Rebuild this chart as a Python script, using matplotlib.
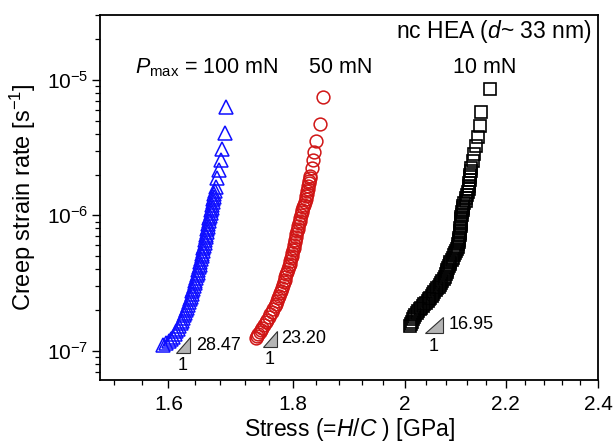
import matplotlib
matplotlib.use('Agg')
import matplotlib.pyplot as plt
import numpy as np
from matplotlib.ticker import FixedLocator, FuncFormatter, LogLocator, NullFormatter

plt.rcParams['font.family'] = ['Liberation Sans', 'DejaVu Sans']
plt.rcParams['mathtext.fontset'] = 'custom'
plt.rcParams['mathtext.rm'] = 'Liberation Sans'
plt.rcParams['mathtext.it'] = 'Liberation Sans:italic'
plt.rcParams['mathtext.bf'] = 'Liberation Sans:bold'

# ---------------- data (stress in GPa, creep strain rate in units of 1e-7 s^-1) -------------
stress_100mN = [1.5925, 1.5966, 1.6006, 1.6045, 1.6074, 1.6097, 1.6119, 1.6140, 1.6163, 1.6185,
                1.6202, 1.6219, 1.6236, 1.6252, 1.6270, 1.6286, 1.6304, 1.6319, 1.6331, 1.6343,
                1.6355, 1.6367, 1.6379, 1.6390, 1.6402, 1.6414, 1.6425, 1.6435, 1.6446, 1.6456,
                1.6466, 1.6477, 1.6487, 1.6498, 1.6509, 1.6519, 1.6528, 1.6537, 1.6546, 1.6555,
                1.6564, 1.6573, 1.6582, 1.6590, 1.6599, 1.6608, 1.6616, 1.6625, 1.6633, 1.6641,
                1.6649, 1.6658, 1.6666, 1.6674, 1.6682, 1.6691, 1.6699, 1.6708, 1.6717, 1.6729,
                1.6756, 1.6781, 1.6808, 1.6834, 1.6871, 1.6898]
rate_100mN_e7 = [1.10, 1.14, 1.18, 1.22, 1.27, 1.33, 1.39, 1.45, 1.52, 1.59,
                 1.66, 1.74, 1.82, 1.90, 1.99, 2.08, 2.18, 2.28, 2.39, 2.50,
                 2.62, 2.74, 2.87, 3.00, 3.14, 3.29, 3.44, 3.60, 3.77, 3.95,
                 4.13, 4.33, 4.53, 4.75, 4.97, 5.20, 5.45, 5.70, 5.97, 6.25,
                 6.55, 6.86, 7.18, 7.52, 7.87, 8.25, 8.64, 9.05, 9.48, 9.93,
                 10.4, 10.9, 11.4, 11.9, 12.5, 13.1, 13.75, 14.4, 15.2, 16.3,
                 18.8, 21.7, 25.7, 30.8, 40.4, 63.0]

stress_50mN = [1.7374, 1.7395, 1.7417, 1.7439, 1.7456, 1.7483, 1.7512, 1.7540, 1.7567, 1.7592,
               1.7616, 1.7641, 1.7665, 1.7688, 1.7710, 1.7726, 1.7743, 1.7759, 1.7776, 1.7792,
               1.7809, 1.7825, 1.7839, 1.7854, 1.7869, 1.7884, 1.7899, 1.7914, 1.7929, 1.7940,
               1.7951, 1.7963, 1.7974, 1.7986, 1.7997, 1.8009, 1.8019, 1.8028, 1.8037, 1.8047,
               1.8056, 1.8066, 1.8076, 1.8087, 1.8099, 1.8110, 1.8122, 1.8133, 1.8145, 1.8158,
               1.8173, 1.8187, 1.8203, 1.8216, 1.8225, 1.8234, 1.8242, 1.8251, 1.8259, 1.8268,
               1.8277, 1.8285, 1.8293, 1.8316, 1.8338, 1.8363, 1.8397, 1.8455, 1.8520]
rate_50mN_e7 = [1.235, 1.28, 1.33, 1.38, 1.42, 1.48, 1.55, 1.62, 1.69, 1.77,
                1.85, 1.94, 2.03, 2.12, 2.22, 2.32, 2.43, 2.54, 2.66, 2.78,
                2.91, 3.05, 3.19, 3.34, 3.49, 3.66, 3.83, 4.01, 4.19, 4.39,
                4.59, 4.81, 5.03, 5.27, 5.51, 5.77, 6.04, 6.32, 6.62, 6.93,
                7.26, 7.60, 7.96, 8.33, 8.72, 9.13, 9.56, 10.0, 10.5, 11.0,
                11.5, 12.0, 12.6, 13.2, 13.8, 14.4, 15.0, 15.7, 16.4, 17.2,
                18.0, 18.8, 19.6, 22.3, 25.7, 29.6, 35.7, 47.4, 75.4]

stress_10mN = [2.0106, 2.0125, 2.0144, 2.0162, 2.0183, 2.0202, 2.0229, 2.0255, 2.0281, 2.0308,
               2.0341, 2.0373, 2.0404, 2.0437, 2.0463, 2.0488, 2.0512, 2.0540, 2.0567, 2.0597,
               2.0626, 2.0655, 2.0684, 2.0704, 2.0724, 2.0745, 2.0765, 2.0786, 2.0806, 2.0822,
               2.0835, 2.0849, 2.0864, 2.0877, 2.0901, 2.0926, 2.0951, 2.0976, 2.0991, 2.1006,
               2.1021, 2.1036, 2.1046, 2.1052, 2.1058, 2.1063, 2.1069, 2.1075, 2.1079, 2.1082,
               2.1086, 2.1089, 2.1093, 2.1096, 2.1104, 2.1112, 2.1120, 2.1127, 2.1136, 2.1145,
               2.1181, 2.1195, 2.1210, 2.1224, 2.1239, 2.1249, 2.1258, 2.1265, 2.1272, 2.1278,
               2.1284, 2.1291, 2.1331, 2.1357, 2.1398, 2.1432, 2.1479, 2.1499, 2.1668]
rate_10mN_e7 = [1.523, 1.58, 1.64, 1.70, 1.77, 1.84, 1.90, 1.96, 2.02, 2.08,
                2.14, 2.20, 2.26, 2.33, 2.40, 2.47, 2.54, 2.62, 2.70, 2.79,
                2.88, 2.97, 3.07, 3.18, 3.29, 3.41, 3.53, 3.66, 3.79, 3.92,
                4.06, 4.21, 4.37, 4.53, 4.70, 4.87, 5.05, 5.24, 5.44, 5.65,
                5.87, 6.10, 6.34, 6.59, 6.85, 7.12, 7.40, 7.69, 8.00, 8.32,
                8.65, 8.99, 9.35, 9.72, 10.1, 10.5, 10.9, 11.3, 11.8, 12.3,
                12.8, 13.4, 14.1, 14.8, 15.6, 16.4, 17.3, 18.2, 19.1, 20.0,
                21.1, 22.3, 25.2, 28.4, 32.6, 37.8, 45.8, 58.4, 85.5]

load_labels = ['$\\mathit{P}_{\\mathrm{max}}$ = 100 mN', '50 mN', '10 mN']
slope_values = ['28.47', '23.20', '16.95']
x_ticks = [1.6, 1.8, 2.0, 2.2, 2.4]

# slope-triangle annotations (data coordinates)
tri_x0 = [1.612, 1.750, 2.038]
tri_x1 = [1.633, 1.773, 2.074]
tri_y0 = [9.57e-8, 1.06e-7, 1.36e-7]
tri_y1 = [1.27e-7, 1.405e-7, 1.78e-7]
slope_txt_x = [1.6418, 1.7788, 2.0846]
slope_txt_y = [1.10e-7, 1.235e-7, 1.567e-7]
one_txt_x = [1.6212, 1.7610, 2.0549]
one_txt_y = [7.75e-8, 8.54e-8, 1.07e-7]

# ---------------- figure -------------
fig = plt.figure(figsize=(6.13, 4.46), dpi=100)
ax = fig.add_axes([100 / 613, 66 / 446, 498 / 613, 365 / 446])

series = [
    (stress_100mN, rate_100mN_e7, '^', '#0f0fff', 9.6, 1.1),
    (stress_50mN, rate_50mN_e7, 'o', '#d01515', 9.2, 1.1),
    (stress_10mN, rate_10mN_e7, 's', '#000000', 8.0, 1.2),
]
for xs, ys, mk, col, ms, mew in series:
    ax.plot(xs, np.array(ys) * 1e-7, linestyle='none', marker=mk, ms=ms,
            markerfacecolor='none', markeredgecolor=col, markeredgewidth=mew)

ax.set_xscale('log')
ax.set_yscale('log')
ax.set_xlim(1.5, 2.4)
ax.set_ylim(6.07e-8, 3.02e-5)

ax.xaxis.set_major_locator(FixedLocator(x_ticks))
ax.xaxis.set_major_formatter(FuncFormatter(lambda v, p: '%g' % v))
minor_x = [v for v in np.round(np.arange(1.52, 2.40, 0.04), 2) if not np.any(np.isclose(v, x_ticks))]
ax.xaxis.set_minor_locator(FixedLocator(minor_x))
ax.xaxis.set_minor_formatter(NullFormatter())
ax.yaxis.set_major_locator(LogLocator(base=10, numticks=10))
ax.yaxis.set_minor_locator(LogLocator(base=10, subs=np.arange(2, 10), numticks=20))
ax.yaxis.set_minor_formatter(NullFormatter())

ax.tick_params(axis='both', which='major', direction='out', length=5.5, width=1.0,
               labelsize=15, top=False, right=False)
ax.tick_params(axis='both', which='minor', direction='out', length=3.5, width=0.9,
               top=False, right=False)
ax.tick_params(axis='x', which='major', pad=5)
ax.tick_params(axis='y', which='major', pad=3)
for sp in ax.spines.values():
    sp.set_linewidth(1.3)

ax.set_xlabel('Stress (=$\\mathit{H}$/$\\mathit{C}$ ) [GPa]', fontsize=16.5, labelpad=2)
ax.set_ylabel('Creep strain rate [s$^{\\mathregular{-1}}$]', fontsize=17, labelpad=6)

# texts
ax.text(0.988, 0.937, 'nc HEA ($\\mathit{d}$~ 33 nm)', transform=ax.transAxes,
        ha='right', va='baseline', fontsize=16.5)
label_x = [0.0703, 0.4197, 0.708]
for lx, lab in zip(label_x, load_labels):
    ax.text(lx, 0.841, lab, transform=ax.transAxes, ha='left', va='baseline', fontsize=15.5)

for i in range(3):
    ax.fill([tri_x0[i], tri_x1[i], tri_x1[i]], [tri_y0[i], tri_y0[i], tri_y1[i]],
            facecolor='#b4b4b4', edgecolor='#303030', linewidth=0.8)
    ax.text(slope_txt_x[i], slope_txt_y[i], slope_values[i], ha='left', va='center', fontsize=13)
    ax.text(one_txt_x[i], one_txt_y[i], '1', ha='center', va='center', fontsize=13)

fig.savefig('out.png', dpi=100)
